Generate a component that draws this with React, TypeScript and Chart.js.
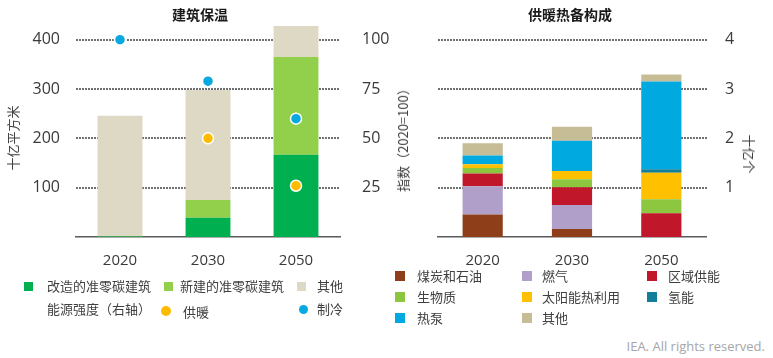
import React, { useEffect, useRef } from "react";
import { Chart, registerables } from "chart.js";

Chart.register(...registerables);

// ---------- data ----------
const years = ["2020", "2030", "2050"];

// Left chart: building envelope (billion m2)
const retrofitNZC = [1, 39, 167];
const newNZC = [1, 36, 198];
const otherArea = [244, 223, 63];
// Energy intensity (right axis, index)
const heatingIntensity = [100, 50, 26];
const coolingIntensity = [100, 79, 60];
const leftAxisTicks = [100, 200, 300, 400];
const rightAxisTicks = [25, 50, 75, 100];

// Right chart: heating equipment stock (billion units)
const coalOil = [0.455, 0.16, 0];
const gas = [0.575, 0.49, 0];
const district = [0.26, 0.36, 0.48];
const biomass = [0.11, 0.16, 0.285];
const solarThermal = [0.075, 0.17, 0.54];
const hydrogen = [0, 0, 0.07];
const heatPump = [0.18, 0.61, 1.78];
const otherHeat = [0.245, 0.285, 0.14];
const heatTicks = [1, 2, 3, 4];

// ---------- styles ----------
const C = {
  retrofit: "#00b050",
  newB: "#92cf4a",
  otherA: "#ddd9c4",
  heating: "#ffbb00",
  cooling: "#0aa8e0",
  coal: "#8f3e1a",
  gas: "#b09fc8",
  district: "#c0172a",
  bio: "#8dc63f",
  solar: "#ffc000",
  h2: "#127f99",
  hp: "#00a9e0",
  otherH: "#c6bd96",
};
const TICK_FONT = { family: "'Open Sans', sans-serif", size: 15 };
const YTICK_FONT = { family: "'Open Sans', sans-serif", size: 16 };
const TICK_COLOR = "#3a3a3a";
const GRID_COLOR = "#707070";
const CJK = "'Noto Sans CJK SC', sans-serif";

function fitY(width: number) {
  return (s: any) => {
    s.width = width;
    s.paddingTop = 0;
    s.paddingBottom = 0;
  };
}

// dotted horizontal grid lines at the given tick values of a scale
function dottedGrid(axisId: string, values: number[]) {
  return {
    id: "dottedGrid_" + axisId,
    beforeDatasetsDraw(chart: any) {
      const s = chart.scales[axisId];
      const { left, right } = chart.chartArea;
      const ctx = chart.ctx;
      ctx.save();
      ctx.fillStyle = GRID_COLOR;
      values.forEach((v) => {
        const y = Math.round(s.getPixelForValue(v)) - 1;
        for (let x = Math.round(left); x < right; x += 3) {
          ctx.fillRect(x, y, 2, 2);
        }
      });
      ctx.restore();
    },
  };
}

function LeftChart() {
  const ref = useRef<HTMLCanvasElement | null>(null);
  useEffect(() => {
    const chart = new Chart(ref.current as HTMLCanvasElement, {
      type: "bar",
      data: {
        labels: years,
        datasets: [
          { type: "line", label: "制冷", data: coolingIntensity, yAxisID: "y2", showLine: false, pointRadius: 5.5, pointHoverRadius: 5.5, pointBackgroundColor: C.cooling, pointBorderColor: "#ffffff", pointBorderWidth: 1.5, order: 0 } as any,
          { type: "line", label: "供暖", data: heatingIntensity, yAxisID: "y2", showLine: false, pointRadius: 5.5, pointHoverRadius: 5.5, pointBackgroundColor: C.heating, pointBorderColor: "#ffffff", pointBorderWidth: 1.5, order: 1 } as any,
          { label: "改造的准零碳建筑", data: retrofitNZC, backgroundColor: C.retrofit, yAxisID: "y", order: 2 },
          { label: "新建的准零碳建筑", data: newNZC, backgroundColor: C.newB, yAxisID: "y", order: 2 },
          { label: "其他", data: otherArea, backgroundColor: C.otherA, yAxisID: "y", order: 2 },
        ],
      },
      plugins: [dottedGrid("y", leftAxisTicks)],
      options: {
        responsive: false,
        animation: false,
        layout: { autoPadding: false, padding: { top: 20, left: 0, right: 0, bottom: 0 } },
        datasets: { bar: { categoryPercentage: 0.51, barPercentage: 1 } } as any,
        plugins: { legend: { display: false }, tooltip: { enabled: false }, title: { display: false } },
        scales: {
          x: {
            stacked: true,
            grid: { display: false },
            border: { display: true, color: "#5a5a5a", width: 1.5 },
            ticks: { font: TICK_FONT, color: TICK_COLOR, padding: 7 },
            afterFit: (s: any) => { s.height = 33; },
          },
          y: {
            stacked: true,
            position: "left",
            min: 0,
            max: 440,
            afterBuildTicks: (s: any) => { s.ticks = [0, ...leftAxisTicks].map((v) => ({ value: v })); },
            ticks: { font: YTICK_FONT, color: TICK_COLOR, padding: 16, autoSkip: false, callback: (v: any) => (v === 0 ? "" : String(v)) },
            grid: { display: false, drawTicks: false },
            border: { display: false },
            afterFit: fitY(76),
          },
          y2: {
            position: "right",
            min: 0,
            max: 110,
            afterBuildTicks: (s: any) => { s.ticks = [0, ...rightAxisTicks].map((v) => ({ value: v })); },
            ticks: { font: YTICK_FONT, color: TICK_COLOR, padding: 22, autoSkip: false, callback: (v: any) => (v === 0 ? "" : String(v)) },
            grid: { display: false, drawTicks: false },
            border: { display: false },
            afterFit: fitY(55),
          },
        },
      } as any,
    });
    return () => chart.destroy();
  }, []);
  return <canvas ref={ref} width={395} height={270} style={{ position: "absolute", left: 0, top: 0 }} />;
}

function RightChart() {
  const ref = useRef<HTMLCanvasElement | null>(null);
  useEffect(() => {
    const mk = (label: string, data: number[], color: string) => ({ label, data, backgroundColor: color });
    const chart = new Chart(ref.current as HTMLCanvasElement, {
      type: "bar",
      data: {
        labels: years,
        datasets: [
          mk("煤炭和石油", coalOil, C.coal),
          mk("燃气", gas, C.gas),
          mk("区域供能", district, C.district),
          mk("生物质", biomass, C.bio),
          mk("太阳能热利用", solarThermal, C.solar),
          mk("氢能", hydrogen, C.h2),
          mk("热泵", heatPump, C.hp),
          mk("其他", otherHeat, C.otherH),
        ],
      },
      plugins: [dottedGrid("y", heatTicks)],
      options: {
        responsive: false,
        animation: false,
        layout: { autoPadding: false, padding: { top: 20, left: 53, right: 0, bottom: 0 } },
        datasets: { bar: { categoryPercentage: 0.45, barPercentage: 1 } } as any,
        plugins: { legend: { display: false }, tooltip: { enabled: false }, title: { display: false } },
        scales: {
          x: {
            stacked: true,
            grid: { display: false },
            border: { display: true, color: "#5a5a5a", width: 1.5 },
            ticks: { font: TICK_FONT, color: TICK_COLOR, padding: 7 },
            afterFit: (s: any) => { s.height = 33; },
          },
          y: {
            stacked: true,
            position: "right",
            min: 0,
            max: 4.4,
            afterBuildTicks: (s: any) => { s.ticks = [0, ...heatTicks].map((v) => ({ value: v })); },
            ticks: { font: YTICK_FONT, color: TICK_COLOR, padding: 19, autoSkip: false, callback: (v: any) => (v === 0 ? "" : String(v)) },
            grid: { display: false, drawTicks: false },
            border: { display: false },
            afterFit: fitY(67),
          },
        },
      } as any,
    });
    return () => chart.destroy();
  }, []);
  return <canvas ref={ref} width={388} height={270} style={{ position: "absolute", left: 385, top: 0 }} />;
}

const txt: React.CSSProperties = {
  position: "absolute",
  fontFamily: CJK,
  fontSize: 13,
  color: "#404040",
  whiteSpace: "nowrap",
  lineHeight: "18px",
};

function T({ x, y, children, style }: { x: number; y: number; children: any; style?: React.CSSProperties }) {
  return <div style={{ ...txt, left: x, top: y - 9, ...style }}>{children}</div>;
}
function Sq({ x, y, color, size = 10 }: { x: number; y: number; color: string; size?: number }) {
  return <div style={{ position: "absolute", left: x, top: y - size / 2, width: size, height: size, background: color }} />;
}
function Dot({ x, y, color, r }: { x: number; y: number; color: string; r: number }) {
  return <div style={{ position: "absolute", left: x - r, top: y - r, width: 2 * r, height: 2 * r, borderRadius: "50%", background: color }} />;
}
function VText({ x, y, deg, children }: { x: number; y: number; deg: number; children: any }) {
  return (
    <div style={{ ...txt, left: x, top: y, transform: `translate(-50%, -50%) rotate(${deg}deg)` }}>{children}</div>
  );
}

export default function App() {
  return (
    <div style={{ position: "fixed", left: 0, top: 0, width: 773, height: 358, background: "#ffffff", overflow: "hidden" }}>
      <LeftChart />
      <RightChart />
      {/* titles */}
      <div style={{ ...txt, left: 200, top: 5, transform: "translateX(-50%)", fontWeight: 700, fontSize: 14, color: "#1a1a1a" }}>建筑保温</div>
      <div style={{ ...txt, left: 570, top: 5, transform: "translateX(-50%)", fontWeight: 700, fontSize: 14, color: "#1a1a1a" }}>供暖热备构成</div>
      {/* axis titles */}
      <VText x={13} y={138} deg={-90}>十亿平方米</VText>
      <VText x={403} y={137} deg={-90}>指数（2020=100）</VText>
      <VText x={749} y={154} deg={90}>十亿个</VText>
      {/* left legend */}
      <Sq x={24} y={286} color={C.retrofit} size={9} />
      <T x={47} y={286}>改造的准零碳建筑</T>
      <Sq x={164} y={286} color={C.newB} size={9} />
      <T x={180} y={286}>新建的准零碳建筑</T>
      <Sq x={297} y={286} color={C.otherA} size={9} />
      <T x={317} y={286}>其他</T>
      <T x={47} y={309}>能源强度（右轴）</T>
      <Dot x={166} y={311} r={5} color={C.heating} />
      <T x={183} y={312}>供暖</T>
      <Dot x={303} y={309} r={4.5} color={C.cooling} />
      <T x={317} y={309}>制冷</T>
      {/* right legend */}
      <Sq x={395} y={276} color={C.coal} />
      <T x={417} y={276}>煤炭和石油</T>
      <Sq x={522} y={276} color={C.gas} />
      <T x={542} y={276}>燃气</T>
      <Sq x={647} y={276} color={C.district} />
      <T x={668} y={276}>区域供能</T>
      <Sq x={395} y={297} color={C.bio} />
      <T x={417} y={297}>生物质</T>
      <Sq x={522} y={297} color={C.solar} />
      <T x={542} y={297}>太阳能热利用</T>
      <Sq x={647} y={297} color={C.h2} />
      <T x={668} y={297}>氢能</T>
      <Sq x={395} y={318} color={C.hp} />
      <T x={417} y={318}>热泵</T>
      <Sq x={522} y={318} color={C.otherH} />
      <T x={542} y={318}>其他</T>
      {/* footnote */}
      <div style={{ position: "absolute", right: 8, top: 337, fontFamily: "'Open Sans', sans-serif", fontSize: 13, color: "#a6a6a6", whiteSpace: "nowrap", lineHeight: "18px" }}>
        IEA. All rights reserved.
      </div>
    </div>
  );
}
